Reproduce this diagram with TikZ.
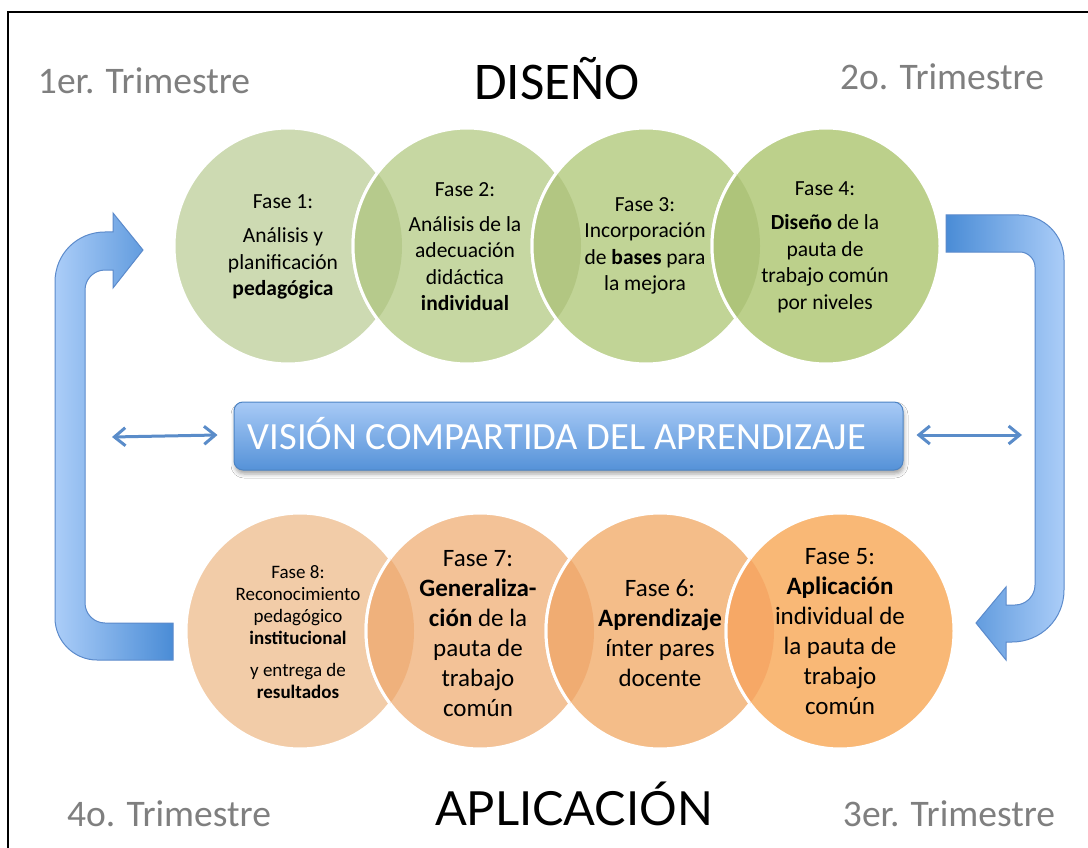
\documentclass[tikz,border=0pt]{standalone}
\usepackage{fontspec}
\setmainfont{Carlito}
\newfontfamily\aplfont{Lato}
\usetikzlibrary{arrows.meta,shadows.blur,shapes.geometric}
\definecolor{gA}{HTML}{CDDAB2}
\definecolor{gB}{HTML}{C6D7A2}
\definecolor{gC}{HTML}{C1D496}
\definecolor{gD}{HTML}{BCD08B}
\definecolor{gAB}{HTML}{B6CA8C}
\definecolor{gBC}{HTML}{B2C682}
\definecolor{gCD}{HTML}{AEC47A}
\definecolor{oA}{HTML}{F2CCA8}
\definecolor{oB}{HTML}{F3C297}
\definecolor{oC}{HTML}{F4BD89}
\definecolor{oD}{HTML}{F9B876}
\definecolor{oAB}{HTML}{EFB17C}
\definecolor{oBC}{HTML}{F0AC72}
\definecolor{oCD}{HTML}{F6A866}
\definecolor{blueL}{HTML}{ABCDF8}
\definecolor{blueD}{HTML}{4A8CD6}
\definecolor{blueEdge}{HTML}{5B8ACB}
\definecolor{boxTop}{HTML}{A8CAF6}
\definecolor{boxBot}{HTML}{5592D8}
\definecolor{boxEdge}{HTML}{4D84C4}
\definecolor{dblArrow}{HTML}{5A8CC9}
\definecolor{greyTxt}{HTML}{7F7F7F}
\newcommand\mylens[5]{%
  \begin{scope}
    \clip (#1,#2) ellipse [x radius=114pt, y radius=118pt];
    \fill[#5] (#3,#4) ellipse [x radius=114pt, y radius=118pt];
    \draw[white, line width=3pt] (#3,#4) ellipse [x radius=114pt, y radius=118pt];
  \end{scope}}
\begin{document}
\begin{tikzpicture}[x=1pt,y=-1pt,
  ell/.style={ellipse, minimum width=228pt, minimum height=236pt, inner sep=0pt, draw=white, line width=3pt},
  toptxt/.style={align=center, inner sep=0pt, font=\fontsize{21.5}{26.5}\selectfont},
  bottxt/.style={align=center, inner sep=0pt, font=\fontsize{25}{30}\selectfont},
  smalltxt/.style={align=center, inner sep=0pt, font=\fontsize{19}{22}\selectfont},
  trim/.style={anchor=base, text=greyTxt, inner sep=0pt, font=\fontsize{37.5}{40}\selectfont},
  uarrow/.style={draw=blueEdge, line width=1pt},
  dbl/.style={{Straight Barb[length=11pt,width=18pt,line width=3pt]}-{Straight Barb[length=11pt,width=18pt,line width=3pt]}, draw=dblArrow, line width=3pt},
  vbox/.style={minimum width=669pt, minimum height=68pt, rounded corners=9pt, top color=boxTop, bottom color=boxBot, draw=boxEdge, line width=1pt, inner sep=0pt,
     blur shadow={shadow xshift=1pt, shadow yshift=-4pt, shadow blur radius=4pt, shadow opacity=35}}
]
\useasboundingbox (0,0) rectangle (1088,848);
\fill[white] (0,0) rectangle (1088,848);
\draw[line width=1.8pt] (8,850) -- (8,12) -- (1090,12);

% headings
\node[trim] (h1) at (144,94) {1er. Trimestre};
\node[trim] (h2) at (942,90) {2o. Trimestre};
\node[trim] (h4) at (169,826) {4o. Trimestre};
\node[trim] (h3) at (949,826) {3er. Trimestre};
\node[anchor=base, inner sep=0pt, font=\fontsize{53}{56}\selectfont] (dis) at (557,100) {DISEÑO};
\node[anchor=base, inner sep=0pt] (apl) at (574,825) {\resizebox{278pt}{!}{\aplfont APLICACIÓN}};

% top circles
\node[ell, fill=gA] (c1) at (288,246) {};
\node[ell, fill=gB] (c2) at (467,246) {};
\mylens{288}{246}{467}{246}{gAB}
\node[ell, fill=gC] (c3) at (646,246) {};
\mylens{467}{246}{646}{246}{gBC}
\node[ell, fill=gD] (c4) at (826,246) {};
\mylens{646}{246}{826}{246}{gCD}

% bottom circles
\node[ell, fill=oA] (c8) at (300,631) {};
\node[ell, fill=oB] (c7) at (480,631) {};
\mylens{300}{631}{480}{631}{oAB}
\node[ell, fill=oC] (c6) at (660,631) {};
\mylens{480}{631}{660}{631}{oBC}
\node[ell, fill=oD] (c5) at (840,631) {};
\mylens{660}{631}{840}{631}{oCD}

% texts
\node[toptxt] (t1) at (283,247) {Fase 1:\\[8pt] Análisis y\\ planificación\\ \textbf{pedagógica}};
\node[toptxt] (t2) at (465,247) {Fase 2:\\[8pt] Análisis de la\\ adecuación\\ didáctica\\ \textbf{individual}};
\node[toptxt] (t3) at (645,246) {Fase 3:\\ Incorporación\\ de \textbf{bases} para\\ la mejora};
\node[toptxt] (t4) at (825,247) {Fase 4:\\[8pt] \textbf{Diseño} de la\\ pauta de\\ trabajo común\\ por niveles};
\node[smalltxt] (t8) at (298,632) {Fase 8:\\ Reconocimiento\\ pedagógico\\ \textbf{institucional}\\[10pt] y entrega de\\ \textbf{resultados}};
\node[bottxt] (t7) at (478,634) {Fase 7:\\ \textbf{Generaliza-}\\ \textbf{ción} de la\\ pauta de\\ trabajo\\ común};
\node[bottxt] (t6) at (660,633) {Fase 6:\\ \textbf{Aprendizaje}\\ ínter pares\\ docente};
\node[bottxt] (t5) at (840,632) {Fase 5:\\ \textbf{Aplicación}\\ individual de\\ la pauta de\\ trabajo\\ común};

% central box
\node[vbox] (vision) at (568.5,436) {};
\node[anchor=base, inner sep=0pt, text=white, font=\fontsize{38.5}{40}\selectfont] (vt) at (557,449) {VISIÓN COMPARTIDA DEL APRENDIZAJE};

% double arrows
\coordinate (la) at (112,437);
\coordinate (ra) at (1022,435);
\draw[dbl] (la) -- ([xshift=-16pt,yshift=1pt]vision.west);
\draw[dbl] ([xshift=13pt,yshift=1pt]vision.east) -- (ra);

% left U arrow (Fase 8 -> Fase 1)
\path[uarrow, left color=blueL, right color=blueD]
  (173,660) -- (97,660) .. controls (74,660) and (55,641) .. (55,618)
  -- (55,282) .. controls (55,254) and (77,232) .. (105,232)
  -- (113,232) -- (113,213) -- (143,250) -- (113,288) -- (113,270) -- (105,270)
  .. controls (94,270) and (85,279) .. (85,290)
  -- (85,603) .. controls (85,614) and (94,623) .. (105,623)
  -- (173,623) -- cycle;

% right U arrow (Fase 4 -> Fase 5)
\path[uarrow, left color=blueD, right color=blueL]
  (946,215) -- (1019,215) .. controls (1044,215) and (1064,235) .. (1064,260)
  -- (1064,590) .. controls (1064,619) and (1041,642) .. (1012,642)
  -- (1006,642) -- (1006,660) -- (976,623) -- (1006,587) -- (1006,605) -- (1015,605)
  .. controls (1026,605) and (1035,596) .. (1035,585)
  -- (1035,267) .. controls (1035,259) and (1028,252) .. (1020,252)
  -- (946,252) -- cycle;
\end{tikzpicture}
\end{document}
